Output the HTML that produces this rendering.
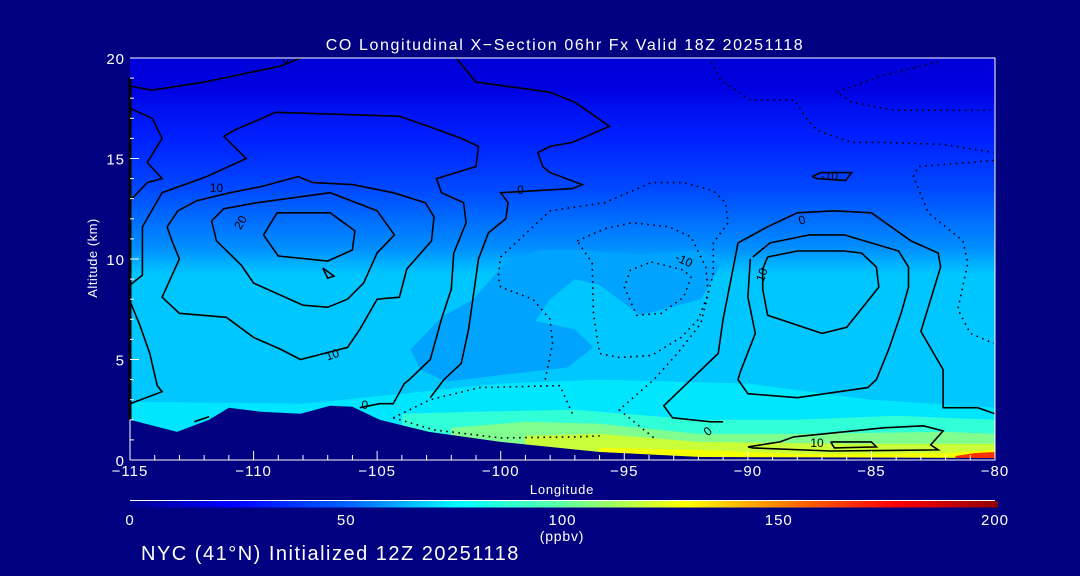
<!DOCTYPE html>
<html><head><meta charset="utf-8"><style>
html,body{margin:0;padding:0;background:#000080;}
#wrap{position:relative;width:1080px;height:576px;overflow:hidden;background:#000080;font-family:"Liberation Sans",sans-serif;color:#fff;}
svg{position:absolute;left:0;top:0;}
</style></head><body>
<div id="wrap">
<svg id="chart" width="1080" height="576" viewBox="0 0 1080 576">
<defs>
<linearGradient id="altGrad" x1="0" y1="58" x2="0" y2="460" gradientUnits="userSpaceOnUse">
<stop offset="0" stop-color="#0000d8"/><stop offset="0.075" stop-color="#0000e0"/>
<stop offset="0.125" stop-color="#0010f0"/><stop offset="0.2" stop-color="#0020ff"/>
<stop offset="0.25" stop-color="#0030ff"/><stop offset="0.325" stop-color="#0048ff"/>
<stop offset="0.375" stop-color="#0060ff"/><stop offset="0.425" stop-color="#0078ff"/>
<stop offset="0.475" stop-color="#0090ff"/><stop offset="0.51" stop-color="#00b0ff"/>
<stop offset="0.54" stop-color="#00c6ff"/><stop offset="0.85" stop-color="#00c8ff"/>
<stop offset="1" stop-color="#00d8ff"/>
</linearGradient>
<linearGradient id="cbGrad" x1="0" y1="0" x2="1" y2="0">
<stop offset="0" stop-color="#000090"/><stop offset="0.12" stop-color="#0000ff"/>
<stop offset="0.25" stop-color="#0060ff"/><stop offset="0.38" stop-color="#00ffff"/>
<stop offset="0.5" stop-color="#60ffa0"/><stop offset="0.64" stop-color="#ffff00"/>
<stop offset="0.78" stop-color="#ff6000"/><stop offset="0.88" stop-color="#ff0000"/>
<stop offset="1" stop-color="#900000"/>
</linearGradient>
<clipPath id="plotClip"><rect x="130" y="58" width="865" height="402"/></clipPath>
</defs>
<g id="plot" clip-path="url(#plotClip)"></g>
<g id="axes"></g>
</svg>
</div>
<script>
// axis ranges
const lonTicks=[-115,-110,-105,-100,-95,-90,-85,-80];
const altTicks=[0,5,10,15,20];
const cbTicks=[0,50,100,150,200];
// filled regions [lon,alt]
const midBlob=[[-103.65,5.5],[-102.4,7.1],[-101.1,8.0],[-99.8,9.85],[-98.4,10.45],[-96.8,10.45],[-94.35,10.2],[-91.9,10.45],[-91.1,9.7],[-91.9,8.0],[-94.35,7.2],[-96.0,8.7],[-97.0,9.0],[-98.0,8.0],[-98.6,6.9],[-97.0,6.5],[-96.25,5.6],[-97.3,4.6],[-99.5,4.3],[-102.2,3.9],[-103.25,4.5]];
const cyanTop=[[-115,2.9],[-108,2.8],[-104,3.3],[-100,3.8],[-96,4.0],[-90,3.8],[-85,3.0],[-80,2.6]];
const aquaTop=[[-104,2.3],[-101,2.4],[-97,2.5],[-92,2.0],[-88,2.0],[-84,2.2],[-80,2.0]];
const greenTop=[[-102,1.6],[-99,1.9],[-96,1.8],[-92,1.3],[-88,1.3],[-82,1.4],[-80,1.3]];
const ygTop=[[-99,1.2],[-96,1.3],[-92,0.9],[-86,0.8],[-80,0.8]];
const yellowTop=[[-96,0.6],[-92,0.5],[-88,0.3],[-82,0.35],[-80,0.5]];
const redTop=[[-81.6,0.2],[-80.8,0.35],[-80,0.4]];
const terrain=[[-115,2.0],[-113.1,1.4],[-111.8,2.0],[-111,2.6],[-109.7,2.4],[-108.1,2.3],[-106.9,2.7],[-106,2.65],[-104.9,2.0],[-102.9,1.4],[-100,0.9],[-96,0.4],[-91.9,0.15],[-80,0.1]];
// solid contours
const cA=[[-113.5,11.6],[-113.06,12.4],[-112.3,12.9],[-110.95,13.3],[-109.7,13.6],[-108.2,14.1],[-107.6,13.8],[-106,13.7],[-104.35,13.3],[-103.05,12.8],[-102.7,12.1],[-102.8,10.9],[-103.8,9.5],[-104.1,8.1],[-105,8.0],[-105.7,6.5],[-106.2,5.6],[-108.1,5.0],[-108.9,5.5],[-110,6.1],[-111.1,7.1],[-113,7.3],[-113.7,8.1],[-113,10],[-113.3,10.9],[-113.5,11.6]];
const cB=[[-111.7,11.9],[-111.2,12.5],[-109.85,12.8],[-106.9,13.3],[-105,12.4],[-104.3,11.2],[-105,10.3],[-105.55,8.8],[-106.2,8.0],[-107,7.6],[-108,7.7],[-110,8.8],[-110.5,9.7],[-111.5,10.9],[-111.7,11.9]];
const cC=[[-109.6,11.2],[-109.05,12.3],[-106.9,12.3],[-105.9,11.4],[-106,10.45],[-107,9.9],[-109,10.15],[-109.6,11.2]];
const cTri=[[-107.2,9.55],[-107,9.05],[-106.75,9.15],[-107.2,9.55]];
const cD=[[-115,7.9],[-114.6,6.7],[-114.2,5.3],[-113.9,3.7],[-113.7,3.4],[-115,2.8]];
const cE=[[-115,8.7],[-114.5,9.2],[-114.5,11.6],[-113.7,13.3],[-111.9,14.1],[-110.3,15.0],[-111.2,16.1],[-110.8,16.4],[-109.1,17.3],[-104.1,17.1],[-102.7,16.5],[-101.6,16.0],[-100.9,15.6],[-101,14.6],[-102.6,14.0],[-102.4,13.3],[-101.5,12.8],[-101.4,11.8],[-101.9,10.3],[-102,8.5],[-102.4,7.0],[-102.85,5.0],[-103.7,4.0],[-103.9,3.8],[-104.35,2.8],[-104.9,2.8],[-105.7,2.6]];
const cF=[[-115,12.9],[-114.3,13.8],[-113.7,14.0],[-114.3,14.8],[-113.7,16.0],[-114.1,17.0],[-115,17.5]];
const cG=[[-115,18.6],[-114.1,18.4],[-112,18.8],[-108.9,19.6],[-108.1,20]];
const cH=[[-101.8,20],[-101,18.8],[-98,18.3],[-97,17.8],[-95.6,16.6],[-97.1,15.8],[-98,15.6],[-98.5,15.3],[-98.3,14.6],[-98,14.3],[-96.7,13.7],[-97.1,13.5],[-100,13.3],[-99.7,12.8],[-99.8,12.0],[-100.5,11.3],[-100.9,10.0],[-101.3,6.5],[-101.6,4.8],[-102.3,4.0],[-102.85,3.1]];
const cI=[[-91,1.9],[-91.5,1.9],[-93.05,2.1],[-93.4,2.7],[-92.3,4.0],[-91.2,5.3],[-91,7.0],[-90.6,9.5],[-90.4,10.8],[-89.2,11.6],[-88,12.3],[-86.5,12.4],[-85,12.3],[-83.4,10.9],[-82.3,10.3],[-82.2,9.6],[-83,6.4],[-82.1,4.5],[-82.1,2.6],[-80.7,2.6],[-80,2.3]];
const cJ=[[-89.8,10.1],[-89.1,10.8],[-87.5,11.2],[-86.1,11.2],[-83.9,10.4],[-83.5,9.6],[-83.5,8.6],[-83.8,7.3],[-84.3,5.5],[-84.8,4.0],[-85.15,3.6],[-88,3.1],[-90,3.3],[-90.4,4.0],[-90.3,4.4],[-89.7,6.3],[-90,8.1],[-89.9,10.0]];
const cK=[[-89.2,10.1],[-88,10.4],[-86.1,10.4],[-85.4,10.3],[-84.8,9.6],[-84.7,8.6],[-86,6.6],[-87,6.3],[-89.2,7.2],[-89.4,8.5],[-89.4,9.5],[-89.2,10.1]];
const cL=[[-90,0.65],[-88.7,0.9],[-88.15,1.15],[-84.5,1.6],[-82.9,1.7],[-82.1,1.45],[-82.6,0.75],[-82.3,0.5],[-86.65,0.45],[-89.8,0.6],[-90,0.65]];
const cM=[[-86.65,0.9],[-85,0.9],[-84.8,0.65],[-86.5,0.6],[-86.65,0.9]];
const cV=[[-87.4,14.1],[-87.05,14.3],[-85.8,14.3],[-86.05,13.9],[-87.2,14.0],[-87.4,14.1]];
const cSmall=[[-112.4,1.9],[-111.8,2.15],[-112.3,1.95]];
// dotted (negative) contours
const dN=[[-96.9,10.9],[-95.8,11.5],[-94.7,11.8],[-93.2,11.6],[-92.3,11.1],[-91.7,9.6],[-91.6,8.3],[-92,7.0],[-92.7,6.1],[-93.9,5.2],[-95.2,5.1],[-96,5.3],[-96.25,7.3],[-96.3,9.8],[-96.9,10.9]];
const dO=[[-93.9,9.85],[-92.6,9.45],[-92.3,9.1],[-92.6,8.1],[-93.5,7.3],[-94.5,7.2],[-95,8.6],[-94.75,9.45],[-93.9,9.85]];
const dP=[[-98.2,4.0],[-97.9,5.8],[-98,7.0],[-98.7,8.0],[-100,8.6],[-100.1,9.1],[-100,10.1],[-98,12.4],[-95.8,12.8],[-93.9,13.8],[-92.6,13.8],[-91.4,13.4],[-90.9,12.8],[-90.8,11.8],[-91.4,10.8],[-91.4,9.3],[-91.9,6.8],[-92.85,5.3],[-93.8,4.0],[-95.2,2.5],[-93.7,1.0]];
const dQ=[[-104.35,2.1],[-102.85,3.0],[-100.85,3.6],[-97.6,3.7],[-97.1,2.3]];
const dR=[[-104.35,2.1],[-102.7,1.5],[-100,1.1],[-96.9,1.15],[-96,1.2]];
const dS=[[-91.5,19.8],[-91.1,18.9],[-89.9,17.9],[-88.1,17.9],[-87.7,17.1],[-87.2,16.4],[-85.8,15.8],[-84.5,15.8],[-82.1,15.7],[-80.05,15.3]];
const dT=[[-82.3,19.8],[-84.5,19.15],[-86.4,18.3],[-85.8,17.8],[-84.1,17.4],[-80.2,17.4]];
const dU=[[-80.05,14.9],[-83.1,14.6],[-83.3,14.1],[-82.7,12.3],[-81.3,10.9],[-81.1,9.8],[-81.5,7.5],[-81,6.3],[-80.05,5.8]];
// contour labels
const labelLon=[-111.5,-110.5,-106.8,-105.5,-99.2,-108.7,-92.6,-87.8,-89.4,-79.5,-86.7,-87.2,-91.6];
const labelAlt=[13.5,11.8,5.2,2.7,13.4,19.9,9.9,11.9,9.2,2.3,14.1,0.8,1.4];
const labelTxt=["10","20","10","0","0","0","-10","0","10","0","-10","10","0"];
const labelRot=[0,-60,-20,0,0,0,25,-15,-70,20,0,0,-40];

const X=lon=>130+(lon+115)*(865/35);
const Y=alt=>460-alt*(402/20);
const CBX=v=>130+v*(865/200);
const NS='http://www.w3.org/2000/svg';
const plot=document.getElementById('plot');
const axes=document.getElementById('axes');
function pts(arr){return arr.map(p=>X(p[0]).toFixed(1)+','+Y(p[1]).toFixed(1)).join(' ');}
function mk(tag,attrs,parent){const e=document.createElementNS(NS,tag);for(const k in attrs)e.setAttribute(k,attrs[k]);parent.appendChild(e);return e;}

let bg=mk('rect',{x:130,y:58,width:865,height:402,fill:'url(#altGrad)'},plot);


let blob=mk('polygon',{points:pts(midBlob),fill:'#00a4ff'},plot);


const bands=[[cyanTop,'#00e6ff','co-band-cyan'],[aquaTop,'#30ffd8','co-band-aqua'],[greenTop,'#80ff90','co-band-green'],[ygTop,'#c8ff38','co-band-yellowgreen'],[yellowTop,'#f4ff00','co-band-yellow'],[redTop,'#ff3000','co-band-red']];
bands.forEach(b=>{
 const top=b[0];
 const poly=top.concat([[top[top.length-1][0],-1],[top[0][0],-1]]);
 const e=mk('polygon',{points:pts(poly),fill:b[1]},plot);
 
 
});
const terr=terrain.concat([[-80,-1],[-115,-1]]);
let te=mk('polygon',{points:pts(terr),fill:'#000080'},plot);



const solids={cA,cB,cC,cTri,cD,cE,cF,cG,cH,cI,cJ,cK,cL,cM,cV,cSmall};
for(const k in solids){
 const e=mk('polyline',{points:pts(solids[k]),fill:'none',stroke:'#000','stroke-width':1.6},plot);
 
 
}
const dots={dN,dO,dP,dQ,dR,dS,dT,dU};
for(const k in dots){
 const e=mk('polyline',{points:pts(dots[k]),fill:'none',stroke:'#000','stroke-width':1.6,'stroke-dasharray':'1.6 4.5'},plot);
 
 
}
labelTxt.forEach((t,i)=>{
 const x=X(labelLon[i]),y=Y(labelAlt[i]);
 const e=mk('text',{x:x,y:y,'font-size':12,fill:'#000','text-anchor':'middle','dominant-baseline':'middle',transform:'rotate('+labelRot[i]+' '+x+' '+y+')','font-family':'Liberation Sans, sans-serif'},plot);
 e.textContent=t;
 
 
});

// frame
let fr=mk('polyline',{points:'130,58 995,58 995,460 130,460',fill:'none',stroke:'#fff','stroke-width':1},axes);


let lf=mk('line',{x1:130,y1:Y(2),x2:130,y2:Y(19),stroke:'#000','stroke-width':3},axes);


let lf2=mk('line',{x1:130,y1:Y(0),x2:130,y2:Y(2),stroke:'#fff','stroke-width':1},axes);


for(let v=-115;v<=-80;v++){
 const maj=lonTicks.includes(v);
 const e=mk('line',{x1:X(v),x2:X(v),y1:460,y2:maj?451:455,stroke:'#fff','stroke-width':1},axes);
 
 
}
for(let a=0;a<=20;a++){
 const maj=altTicks.includes(a);
 const e=mk('line',{x1:130,x2:maj?139:134,y1:Y(a),y2:Y(a),stroke:'#fff','stroke-width':1},axes);
 
 
}
lonTicks.forEach(v=>{
 const e=mk('text',{x:X(v),y:476,'font-size':15,'letter-spacing':1,fill:'#fff','text-anchor':'middle','font-family':'Liberation Sans, sans-serif'},axes);
 e.textContent=String(v).replace('-','\u2212');
 
 
});
altTicks.forEach(a=>{
 const e=mk('text',{x:125,y:Y(a)+6,'font-size':15,'letter-spacing':1,fill:'#fff','text-anchor':'end','font-family':'Liberation Sans, sans-serif'},axes);
 e.textContent=a;
 
 
});
// colorbar
let cbl=mk('line',{x1:130,x2:995,y1:500.5,y2:500.5,stroke:'#fff','stroke-width':1},axes);


let cb=mk('rect',{x:130,y:501,width:868,height:6.5,fill:'url(#cbGrad)'},axes);


cbTicks.forEach(v=>{
 const e=mk('text',{x:CBX(v),y:525,'font-size':15,'letter-spacing':1,fill:'#fff','text-anchor':'middle','font-family':'Liberation Sans, sans-serif'},axes);
 e.textContent=v;
 
 
});
function txt(x,y,s,size,name,anchor,rot,ls){
 const e=mk('text',{x:x,y:y,'font-size':size,'letter-spacing':ls||0,fill:'#fff','text-anchor':anchor||'middle','font-family':'Liberation Sans, sans-serif'},axes);
 if(rot)e.setAttribute('transform','rotate('+rot+' '+x+' '+y+')');
 e.textContent=s;
 
 
}
txt(565,50,'CO Longitudinal X\u2212Section 06hr  Fx Valid 18Z 20251118',16,'chart-title','middle',0,1.6);
txt(562,494,'Longitude',13,'x-axis-title','middle',0,0.8);
txt(97,258,'Altitude (km)',13,'y-axis-title','middle',-90,0.5);
txt(562,541,'(ppbv)',14,'colorbar-unit','middle',0,0.8);
txt(141,560,'NYC (41\u00b0N) Initialized 12Z 20251118',20,'init-caption','start',0,1.5);
</script>
</body></html>
